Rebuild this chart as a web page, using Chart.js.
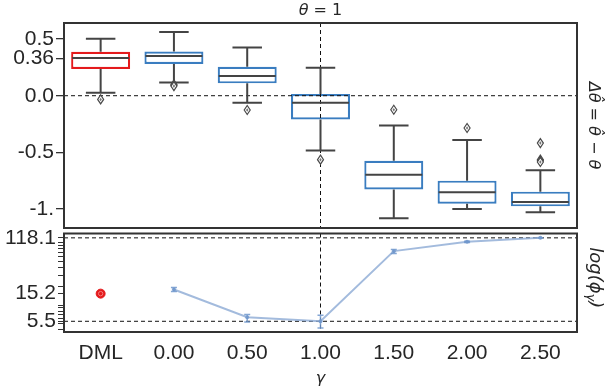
<!DOCTYPE html>
<html>
<head>
<meta charset="utf-8">
<script src="https://cdn.jsdelivr.net/npm/chart.js@4.4.1/dist/chart.umd.min.js"></script>
<style>
  html, body { margin: 0; padding: 0; background: #fff; }
  #wrap { position: relative; width: 608px; height: 388px; }
  #topChart { position: absolute; left: 0; top: 0; }
  #bottomChart { position: absolute; left: 0; top: 220px; }
</style>
</head>
<body>
<div id="wrap">
  <canvas id="topChart" width="608" height="232"></canvas>
  <canvas id="bottomChart" width="608" height="168"></canvas>
</div>
<script>
// categories (gamma values, DML baseline first)
const categories = ['DML', '0.00', '0.50', '1.00', '1.50', '2.00', '2.50'];

// box plot of theta_hat - theta
const whiskerLow  = [0.026, 0.117, -0.062, -0.483, -1.083, -1.000, -1.030];
const q1          = [0.236, 0.280,  0.109, -0.209, -0.827, -0.953, -0.977];
const medians     = [0.333, 0.350,  0.174, -0.062, -0.697, -0.853, -0.938];
const q3          = [0.388, 0.391,  0.256,  0.015, -0.574, -0.750, -0.847];
const whiskerHigh = [0.503, 0.562,  0.426,  0.247, -0.262, -0.391, -0.659];
const outliers = [
  [-0.033],
  [0.100, 0.092, 0.085],
  [-0.126],
  [-0.565],
  [-0.124],
  [-0.285],
  [-0.418, -0.565, -0.575, -0.585]
];
const boxTickValues = [-1, -0.5, 0, 0.33, 0.5];
const boxTickLabels = ['-1.', '-0.5', '0.0', '0.36', '0.5'];

// log(phi_gamma)
const dmlPhi = [15.2, null, null, null, null, null, null];
const logPhi = [null, 17.7, 6.37, 5.5, 72.5, 102, 118.1];
const phiErrLow  = [null, 16.4, 5.36, 4.29, 66.5, 100, 117];
const phiErrHigh = [null, 19.0, 7.03, 6.86, 77.1, 104, 119];
const phiTickValues = [5.5, 15.2, 118.1];
const phiMinorTicks = [4, 5, 6, 7, 8, 9, 10, 20, 30, 40, 50, 60, 70, 80, 90, 100];

const RED = '#e41a1c';
const BLUE = '#3a7dc0';
const DARK = '#444444';
const TEXT = '#262626';
const tickFont = { family: 'Liberation Sans, Arial, sans-serif', size: 21 };
const MATH = '"DejaVu Sans", sans-serif';

function frame(chart) {
  const { ctx, chartArea: a } = chart;
  ctx.save();
  ctx.strokeStyle = '#333';
  ctx.lineWidth = 2;
  ctx.strokeRect(a.left, a.top, a.right - a.left, a.bottom - a.top);
  ctx.restore();
}

function dashed(ctx, x1, y1, x2, y2) {
  ctx.save();
  ctx.strokeStyle = '#111';
  ctx.lineWidth = 1;
  ctx.setLineDash([4, 3]);
  ctx.beginPath();
  ctx.moveTo(x1, y1);
  ctx.lineTo(x2, y2);
  ctx.stroke();
  ctx.restore();
}

// draws math-like text made of parts, rotated 90deg clockwise
function rotatedText(ctx, parts, cx, cy) {
  ctx.save();
  ctx.translate(cx, cy);
  ctx.rotate(Math.PI / 2);
  ctx.fillStyle = TEXT;
  ctx.textBaseline = 'middle';
  let total = 0;
  parts.forEach(p => { ctx.font = p.font; total += ctx.measureText(p.t).width; });
  let x = -total / 2;
  parts.forEach(p => {
    ctx.font = p.font;
    ctx.fillText(p.t, x, p.dy || 0);
    x += ctx.measureText(p.t).width;
  });
  ctx.restore();
}

function noPad(s) {
  s.paddingTop = 0;
  s.paddingBottom = 0;
}

const boxPlugin = {
  id: 'boxExtras',
  afterDatasetsDraw(chart) {
    const { ctx, scales: { x, y }, chartArea: a } = chart;
    const meta = chart.getDatasetMeta(0);
    ctx.save();
    dashed(ctx, a.left, y.getPixelForValue(0), a.right, y.getPixelForValue(0));
    dashed(ctx, x.getPixelForValue(3), a.top, x.getPixelForValue(3), a.bottom);
    ctx.strokeStyle = DARK;
    ctx.lineWidth = 2;
    categories.forEach((c, i) => {
      const cx = x.getPixelForValue(i);
      const half = meta.data[i].width / 2;
      ctx.beginPath();
      ctx.moveTo(cx, y.getPixelForValue(q3[i]));
      ctx.lineTo(cx, y.getPixelForValue(whiskerHigh[i]));
      ctx.moveTo(cx, y.getPixelForValue(q1[i]));
      ctx.lineTo(cx, y.getPixelForValue(whiskerLow[i]));
      ctx.moveTo(cx - half / 2, y.getPixelForValue(whiskerHigh[i]));
      ctx.lineTo(cx + half / 2, y.getPixelForValue(whiskerHigh[i]));
      ctx.moveTo(cx - half / 2, y.getPixelForValue(whiskerLow[i]));
      ctx.lineTo(cx + half / 2, y.getPixelForValue(whiskerLow[i]));
      ctx.moveTo(cx - half + 1, y.getPixelForValue(medians[i]));
      ctx.lineTo(cx + half - 1, y.getPixelForValue(medians[i]));
      ctx.stroke();
      // outliers as hollow diamonds
      outliers[i].forEach(v => {
        const py = y.getPixelForValue(v);
        ctx.save();
        ctx.strokeStyle = '#4a4a4a';
        ctx.lineWidth = 1.2;
        ctx.fillStyle = '#ffffff';
        ctx.beginPath();
        ctx.moveTo(cx, py - 4.5);
        ctx.lineTo(cx + 3, py);
        ctx.lineTo(cx, py + 4.5);
        ctx.lineTo(cx - 3, py);
        ctx.closePath();
        ctx.fill();
        ctx.stroke();
        ctx.fillStyle = '#777';
        ctx.beginPath();
        ctx.moveTo(cx, py - 1.8);
        ctx.lineTo(cx + 1.2, py);
        ctx.lineTo(cx, py + 1.8);
        ctx.lineTo(cx - 1.2, py);
        ctx.closePath();
        ctx.fill();
        ctx.restore();
      });
    });
    ctx.restore();
  },
  afterDraw(chart) {
    frame(chart);
    const { ctx, chartArea: a } = chart;
    const parts = [
      { t: 'θ', font: 'italic 16px ' + MATH },
      { t: ' = 1', font: '16px ' + MATH }
    ];
    ctx.save();
    ctx.fillStyle = TEXT;
    ctx.textBaseline = 'middle';
    let w = 0;
    parts.forEach(p => { ctx.font = p.font; w += ctx.measureText(p.t).width; });
    let px = (a.left + a.right) / 2 - w / 2;
    parts.forEach(p => { ctx.font = p.font; ctx.fillText(p.t, px, 11); px += ctx.measureText(p.t).width; });
    ctx.restore();
    rotatedText(ctx, [
      { t: 'Δθ\u0302 = θ\u0302 − θ', font: 'italic 16px ' + MATH }
    ], 593, (a.top + a.bottom) / 2);
  }
};

new Chart(document.getElementById('topChart'), {
  type: 'bar',
  data: {
    labels: categories,
    datasets: [{
      data: q1.map((v, i) => [v, q3[i]]),
      backgroundColor: '#ffffff',
      borderColor: categories.map((c, i) => i === 0 ? RED : BLUE),
      borderWidth: 2.2,
      borderSkipped: false,
      barPercentage: 1,
      categoryPercentage: 0.805
    }]
  },
  options: {
    responsive: false,
    animation: false,
    layout: { padding: { top: 23, right: 31, bottom: 4, left: 0 } },
    plugins: { legend: { display: false }, tooltip: { enabled: false } },
    scales: {
      x: { display: false, offset: true },
      y: {
        min: -1.168,
        max: 0.642,
        afterBuildTicks: s => { s.ticks = boxTickValues.map(v => ({ value: v })); },
        afterFit: s => { s.width = 64; noPad(s); },
        ticks: {
          autoSkip: false,
          color: TEXT,
          font: tickFont,
          padding: 2,
          callback: (v, i) => boxTickLabels[i]
        },
        grid: { drawOnChartArea: false, drawTicks: true, tickLength: 8, color: '#333', lineWidth: 1.3 },
        border: { display: false }
      }
    }
  },
  plugins: [boxPlugin]
});

const phiPlugin = {
  id: 'phiExtras',
  beforeDatasetsDraw(chart) {
    const { ctx, scales: { x, y }, chartArea: a } = chart;
    dashed(ctx, a.left, y.getPixelForValue(phiTickValues[2]), a.right, y.getPixelForValue(phiTickValues[2]));
    dashed(ctx, a.left, y.getPixelForValue(phiTickValues[0]), a.right, y.getPixelForValue(phiTickValues[0]));
    dashed(ctx, x.getPixelForValue(3), a.top, x.getPixelForValue(3), a.bottom);
  },
  afterDatasetsDraw(chart) {
    const { ctx, scales: { x, y } } = chart;
    ctx.save();
    ctx.strokeStyle = 'rgba(110,150,205,0.85)';
    ctx.lineWidth = 1.5;
    phiErrLow.forEach((lo, i) => {
      if (lo === null) return;
      const cx = x.getPixelForValue(i);
      const y1 = y.getPixelForValue(lo), y2 = y.getPixelForValue(phiErrHigh[i]);
      ctx.beginPath();
      ctx.moveTo(cx, y1); ctx.lineTo(cx, y2);
      ctx.moveTo(cx - 3, y1); ctx.lineTo(cx + 3, y1);
      ctx.moveTo(cx - 3, y2); ctx.lineTo(cx + 3, y2);
      ctx.stroke();
    });
    ctx.restore();
  },
  afterDraw(chart) {
    frame(chart);
    const { ctx, chartArea: a } = chart;
    rotatedText(ctx, [
      { t: 'log(ϕ', font: 'italic 18px ' + MATH },
      { t: 'γ', font: 'italic 13px ' + MATH, dy: 5 },
      { t: ')', font: 'italic 18px ' + MATH }
    ], 595, (a.top + a.bottom) / 2 - 5);
  }
};

new Chart(document.getElementById('bottomChart'), {
  type: 'line',
  data: {
    labels: categories,
    datasets: [{
      data: logPhi,
      borderColor: 'rgba(140,170,212,0.8)',
      backgroundColor: 'rgba(120,155,205,0.9)',
      borderWidth: 2,
      pointRadius: 2,
      pointBorderWidth: 0,
      spanGaps: false
    }, {
      // inner part of the DML marker, drawn on top
      data: dmlPhi,
      showLine: false,
      order: 0,
      pointRadius: 2.2,
      pointBackgroundColor: RED,
      pointBorderColor: '#f47a7b',
      pointBorderWidth: 1
    }, {
      data: dmlPhi,
      showLine: false,
      order: 1,
      pointRadius: 4.5,
      pointBackgroundColor: RED,
      pointBorderColor: RED,
      pointBorderWidth: 1
    }]
  },
  options: {
    responsive: false,
    animation: false,
    layout: { padding: { top: 13.5, right: 31, bottom: 0, left: 0 } },
    plugins: { legend: { display: false }, tooltip: { enabled: false } },
    scales: {
      x: {
        type: 'category',
        offset: true,
        afterFit: s => { s.height = 56; },
        grid: { display: false, drawTicks: false },
        border: { display: false },
        ticks: { color: TEXT, font: tickFont, padding: 9 },
        title: { display: true, text: 'γ', color: TEXT, font: { family: 'DejaVu Sans', size: 16, style: 'italic' }, padding: { top: 0, bottom: 0 } }
      },
      y: {
        type: 'logarithmic',
        min: 3.71,
        max: 138.6,
        afterBuildTicks: s => {
          s.ticks = phiMinorTicks.concat(phiTickValues).sort((a, b) => a - b).map(v => ({ value: v }));
        },
        afterFit: s => { s.width = 64; noPad(s); },
        ticks: {
          autoSkip: false,
          color: TEXT,
          font: tickFont,
          padding: 2,
          callback: v => phiTickValues.includes(v) ? String(v) : ''
        },
        grid: { drawOnChartArea: false, drawTicks: true, tickLength: 6, color: '#333', lineWidth: 1 },
        border: { display: false }
      }
    }
  },
  plugins: [phiPlugin]
});
</script>
</body>
</html>
